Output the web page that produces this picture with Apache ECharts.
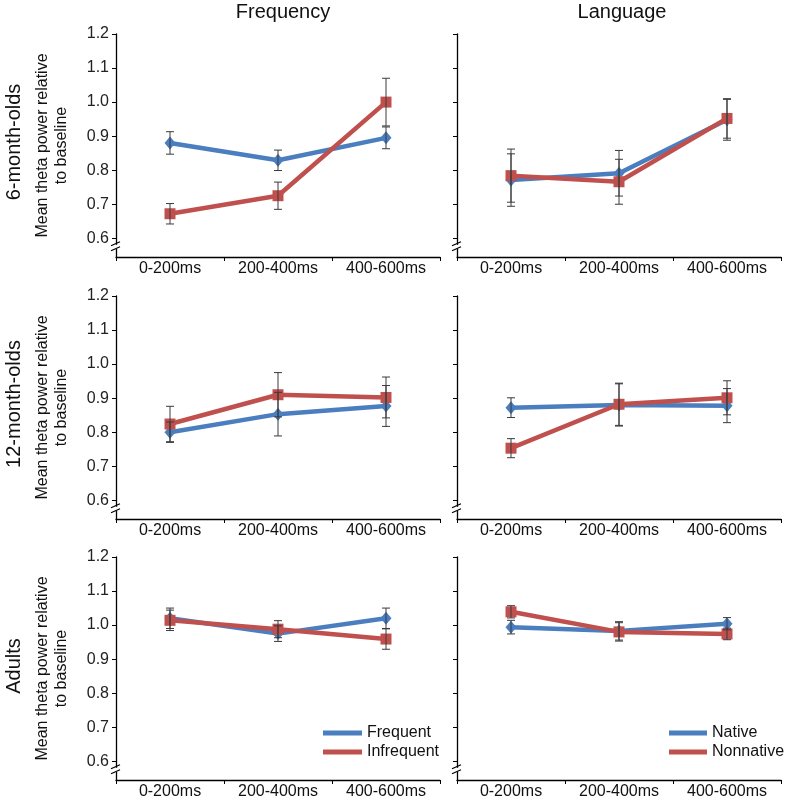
<!DOCTYPE html>
<html>
<head>
<meta charset="utf-8">
<script src="https://cdn.jsdelivr.net/npm/echarts@6/dist/echarts.min.js"></script>
<style>html,body{margin:0;padding:0;background:#fff;}#c{width:787px;height:803px;}</style>
</head>
<body>
<div id="c"></div>
<script>
// ---- data ----
const categories = ['0-200ms', '200-400ms', '400-600ms'];
const yTickValues = [0.6, 0.7, 0.8, 0.9, 1.0, 1.1, 1.2];
const columnTitles = ['Frequency', 'Language'];
const rowTitles = ['6-month-olds', '12-month-olds', 'Adults'];
const freqNames = ['Frequent', 'Infrequent'];
const langNames = ['Native', 'Nonnative'];

const freq6Frequent = [0.880, 0.829, 0.895];
const freq6FrequentErr = [0.033, 0.030, 0.032];
const freq6Infrequent = [0.672, 0.725, 1.000];
const freq6InfrequentErr = [0.030, 0.040, 0.070];

const lang6Native = [0.771, 0.791, 0.948];
const lang6NativeErr = [0.077, 0.067, 0.060];
const lang6Nonnative = [0.784, 0.766, 0.952];
const lang6NonnativeErr = [0.078, 0.066, 0.058];

const freq12Frequent = [0.800, 0.853, 0.877];
const freq12FrequentErr = [0.030, 0.064, 0.060];
const freq12Infrequent = [0.824, 0.910, 0.902];
const freq12InfrequentErr = [0.052, 0.065, 0.060];

const lang12Native = [0.872, 0.880, 0.878];
const lang12NativeErr = [0.029, 0.062, 0.050];
const lang12Nonnative = [0.753, 0.882, 0.901];
const lang12NonnativeErr = [0.028, 0.062, 0.050];

const adultFreqFrequent = [1.020, 0.975, 1.020];
const adultFreqFrequentErr = [0.030, 0.023, 0.030];
const adultFreqInfrequent = [1.014, 0.988, 0.959];
const adultFreqInfrequentErr = [0.030, 0.025, 0.030];

const adultLangNative = [0.994, 0.983, 1.004];
const adultLangNativeErr = [0.020, 0.027, 0.018];
const adultLangNonnative = [1.039, 0.980, 0.974];
const adultLangNonnativeErr = [0.018, 0.027, 0.017];

const panels = [
  {row: 0, col: 0, names: freqNames, blue: freq6Frequent, blueErr: freq6FrequentErr, red: freq6Infrequent, redErr: freq6InfrequentErr},
  {row: 0, col: 1, names: langNames, blue: lang6Native, blueErr: lang6NativeErr, red: lang6Nonnative, redErr: lang6NonnativeErr},
  {row: 1, col: 0, names: freqNames, blue: freq12Frequent, blueErr: freq12FrequentErr, red: freq12Infrequent, redErr: freq12InfrequentErr},
  {row: 1, col: 1, names: langNames, blue: lang12Native, blueErr: lang12NativeErr, red: lang12Nonnative, redErr: lang12NonnativeErr},
  {row: 2, col: 0, names: freqNames, blue: adultFreqFrequent, blueErr: adultFreqFrequentErr, red: adultFreqInfrequent, redErr: adultFreqInfrequentErr},
  {row: 2, col: 1, names: langNames, blue: adultLangNative, blueErr: adultLangNativeErr, red: adultLangNonnative, redErr: adultLangNonnativeErr}
];

// ---- layout ----
const BLUE = '#4a7ebf';
const RED = '#c0504d';
const FONT = 'Liberation Sans, Arial, sans-serif';
const gridLeft = [116, 457];
const gridWidth = 324;
const gridTop = [34, 296, 557];
const gridHeight = 223;
const yMin = 0.545, yMax = 1.2;

const chart = echarts.init(document.getElementById('c'), null, {renderer: 'canvas'});

const grids = [], xAxes = [], yAxes = [], series = [];
panels.forEach((p, i) => {
  grids.push({left: gridLeft[p.col], top: gridTop[p.row], width: gridWidth, height: gridHeight, containLabel: false});
  xAxes.push({
    type: 'category', gridIndex: i, data: categories, boundaryGap: true,
    axisLine: {lineStyle: {color: '#000', width: 1.3}},
    axisTick: {show: true, length: 4, lineStyle: {color: '#000'}},
    axisLabel: {color: '#111', fontSize: 16, fontFamily: FONT, margin: 4, interval: 0}
  });
  yAxes.push({
    type: 'value', gridIndex: i, min: yMin, max: yMax,
    name: p.col === 0 ? 'Mean theta power relative\nto baseline' : '',
    nameLocation: 'middle', nameGap: 45, nameRotate: 90,
    nameTextStyle: {color: '#111', fontSize: 16, fontFamily: FONT, lineHeight: 19},
    splitLine: {show: false},
    axisLine: {show: true, lineStyle: {color: '#000', width: 1.3}},
    axisTick: {show: true, length: 4, customValues: yTickValues, lineStyle: {color: '#000'}},
    axisLabel: {show: p.col === 0, customValues: yTickValues, color: '#222', fontSize: 16, fontFamily: FONT, margin: 7,
      formatter: v => v.toFixed(1)}
  });
  const mkLine = (name, data, color, symbol, size) => ({
    type: 'line', name: name, xAxisIndex: i, yAxisIndex: i, data: data,
    symbol: symbol, symbolSize: size, showSymbol: true,
    lineStyle: {color: color, width: 4.5}, itemStyle: {color: color},
    emphasis: {disabled: true}, z: 3
  });
  series.push(mkLine(p.names[0], p.blue, BLUE, 'diamond', [11, 13]));
  series.push(mkLine(p.names[1], p.red, RED, 'rect', 11));
  const errData = [];
  p.blue.forEach((v, k) => errData.push([k, v - p.blueErr[k], v + p.blueErr[k]]));
  p.red.forEach((v, k) => errData.push([k, v - p.redErr[k], v + p.redErr[k]]));
  series.push({
    type: 'custom', xAxisIndex: i, yAxisIndex: i, data: errData, z: 4, silent: true,
    encode: {x: 0, y: [1, 2]},
    renderItem: (params, api) => {
      const lo = api.coord([api.value(0), api.value(1)]);
      const hi = api.coord([api.value(0), api.value(2)]);
      const w = 4;
      const st = {stroke: '#3a3a3a', lineWidth: 1};
      return {type: 'group', children: [
        {type: 'line', shape: {x1: lo[0], y1: lo[1], x2: hi[0], y2: hi[1]}, style: st},
        {type: 'line', shape: {x1: lo[0] - w, y1: lo[1], x2: lo[0] + w, y2: lo[1]}, style: st},
        {type: 'line', shape: {x1: hi[0] - w, y1: hi[1], x2: hi[0] + w, y2: hi[1]}, style: st}
      ]};
    }
  });
});

// titles & break marks
const graphics = [];
const colCenters = [283, 622];
columnTitles.forEach((t, c) => graphics.push({
  type: 'text', x: colCenters[c], y: 12,
  style: {text: t, fontSize: 20, fontFamily: FONT, fill: '#111', align: 'center', verticalAlign: 'middle'}
}));
const rowCenters = [142, 404, 666];
rowTitles.forEach((t, r) => graphics.push({
  type: 'text', x: 14, y: rowCenters[r], rotation: Math.PI / 2,
  style: {text: t, fontSize: 20, fontFamily: FONT, fill: '#111', align: 'center', verticalAlign: 'middle'}
}));
gridTop.forEach(top => gridLeft.forEach(left => {
  const yb = top + (yMax - 0.575) / (yMax - yMin) * gridHeight;
  graphics.push({type: 'rect', shape: {x: left - 2, y: yb - 2, width: 4, height: 4}, style: {fill: '#fff'}, z: 100});
  graphics.push({type: 'line', shape: {x1: left - 5, y1: yb - 1, x2: left + 4, y2: yb - 5}, style: {stroke: '#000', lineWidth: 1.2}, z: 101});
  graphics.push({type: 'line', shape: {x1: left - 5, y1: yb + 4, x2: left + 4, y2: yb}, style: {stroke: '#000', lineWidth: 1.2}, z: 101});
}));

chart.setOption({
  animation: false,
  backgroundColor: '#fff',
  grid: grids, xAxis: xAxes, yAxis: yAxes, series: series,
  graphic: graphics,
  legend: [
    {data: freqNames, orient: 'vertical', left: 318, top: 720, itemWidth: 39, itemHeight: 5, itemGap: 3, icon: 'rect',
      textStyle: {fontSize: 16, fontFamily: FONT, color: '#111'}, selectedMode: false},
    {data: langNames, orient: 'vertical', left: 664, top: 720, itemWidth: 38, itemHeight: 5, itemGap: 3, icon: 'rect',
      textStyle: {fontSize: 16, fontFamily: FONT, color: '#111'}, selectedMode: false}
  ]
});
</script>
</body>
</html>
